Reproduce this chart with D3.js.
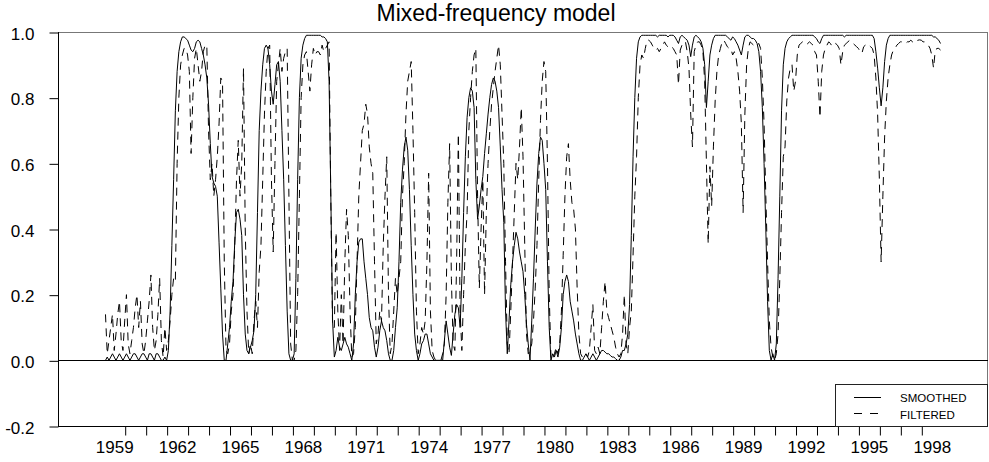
<!DOCTYPE html>
<html><head><meta charset="utf-8">
<script src="https://cdn.jsdelivr.net/npm/d3@7"></script>
<style>body{margin:0;background:#fff} svg{display:block}</style>
</head><body>
<svg id="c" width="989" height="462"></svg>
<script>
// ---- data (monthly, starting 1959:02) ----
const startYear = 1959, startMonth = 2;
const smoothed = [
 0.00,0.01,0.00,0.01,0.02,0.01,0.00,0.01,0.02,0.01,0.00,
 0.01,0.02,0.01,0.00,0.01,0.02,0.02,0.01,0.00,0.01,0.02,0.02,
 0.01,0.00,0.02,0.02,0.01,0.00,0.02,0.02,0.01,0.00,0.00,0.01,
 0.00,0.03,0.15,0.35,0.55,0.76,0.88,0.94,0.97,0.985,0.985,0.98,
 0.975,0.96,0.945,0.94,0.95,0.97,0.975,0.97,0.95,0.93,0.90,0.86,
 0.78,0.66,0.56,0.54,0.53,0.50,0.36,0.22,0.08,0.00,0.00,0.05,
 0.10,0.18,0.24,0.36,0.45,0.46,0.43,0.38,0.20,0.08,0.03,0.02,
 0.04,0.06,0.09,0.20,0.45,0.70,0.82,0.90,0.95,0.96,0.95,0.90,
 0.82,0.78,0.84,0.90,0.91,0.85,0.70,0.55,0.35,0.15,0.02,0.00,
 0.00,0.02,0.25,0.55,0.80,0.92,0.96,0.98,0.99,0.99,0.99,0.99,
 0.99,0.99,0.99,0.99,0.99,0.985,0.985,0.98,0.97,0.85,0.50,0.12,
 0.01,0.03,0.07,0.04,0.03,0.05,0.07,0.05,0.04,0.02,0.00,0.05,
 0.20,0.30,0.36,0.37,0.37,0.30,0.25,0.20,0.13,0.10,0.09,0.04,
 0.01,0.04,0.09,0.12,0.10,0.09,0.06,0.02,0.00,0.00,0.03,0.10,
 0.16,0.30,0.48,0.58,0.65,0.68,0.64,0.52,0.35,0.20,0.08,0.03,
 0.00,0.02,0.05,0.06,0.08,0.08,0.05,0.02,0.01,0.00,0.00,0.00,
 0.00,0.00,0.00,0.06,0.12,0.08,0.04,0.015,0.08,0.14,0.17,0.16,
 0.10,0.25,0.45,0.62,0.74,0.80,0.83,0.82,0.77,0.55,0.43,0.47,
 0.52,0.56,0.63,0.69,0.75,0.80,0.84,0.86,0.85,0.82,0.77,0.65,
 0.52,0.42,0.15,0.02,0.12,0.23,0.30,0.35,0.39,0.37,0.33,0.30,
 0.27,0.20,0.11,0.05,0.00,0.12,0.25,0.40,0.54,0.63,0.68,0.67,
 0.60,0.52,0.30,0.10,0.00,0.02,0.01,0.03,0.01,0.04,0.10,0.20,
 0.24,0.26,0.24,0.18,0.15,0.12,0.08,0.05,0.02,0.00,0.00,0.01,
 0.02,0.01,0.00,0.01,0.02,0.01,0.00,0.01,0.02,0.03,0.03,0.025,
 0.02,0.02,0.015,0.01,0.01,0.005,0.00,0.00,0.01,0.03,0.03,0.05,
 0.08,0.17,0.38,0.62,0.80,0.92,0.97,0.985,0.99,0.99,0.99,0.99,
 0.99,0.99,0.99,0.99,0.99,0.985,0.99,0.99,0.99,0.99,0.99,0.985,
 0.99,0.99,0.99,0.985,0.975,0.965,0.985,0.99,0.985,0.98,0.975,0.96,
 0.925,0.96,0.985,0.99,0.985,0.98,0.97,0.95,0.90,0.77,0.85,0.93,
 0.96,0.98,0.99,0.99,0.99,0.99,0.99,0.99,0.99,0.985,0.98,0.975,
 0.985,0.98,0.97,0.96,0.945,0.93,0.96,0.985,0.99,0.99,0.985,0.98,
 0.98,0.975,0.965,0.94,0.88,0.77,0.60,0.40,0.18,0.03,0.00,0.02,
 0.00,0.05,0.25,0.50,0.76,0.90,0.95,0.97,0.98,0.985,0.99,0.99,
 0.99,0.99,0.99,0.99,0.99,0.99,0.99,0.99,0.99,0.99,0.99,0.985,
 0.98,0.97,0.965,0.98,0.99,0.99,0.99,0.99,0.99,0.99,0.99,0.99,
 0.99,0.99,0.99,0.99,0.985,0.99,0.99,0.99,0.99,0.99,0.99,0.99,
 0.99,0.99,0.99,0.99,0.99,0.99,0.99,0.99,0.99,0.98,0.94,0.89,
 0.83,0.775,0.83,0.91,0.96,0.98,0.99,0.99,0.99,0.99,0.99,0.99,
 0.99,0.99,0.99,0.99,0.99,0.99,0.99,0.99,0.99,0.99,0.99,0.99,
 0.99,0.99,0.99,0.99,0.99,0.99,0.99,0.985,0.985,0.98,0.975,0.965
];
const filtered = [
 0.14,0.02,0.06,0.10,0.14,0.03,0.08,0.14,0.18,0.06,0.03,
 0.12,0.20,0.05,0.02,0.06,0.10,0.16,0.20,0.10,0.18,0.05,0.02,
 0.06,0.12,0.18,0.26,0.10,0.03,0.06,0.14,0.25,0.06,0.01,0.10,
 0.03,0.06,0.12,0.20,0.25,0.24,0.60,0.80,0.90,0.93,0.95,0.95,
 0.93,0.88,0.63,0.80,0.92,0.95,0.90,0.85,0.88,0.94,0.96,0.96,
 0.70,0.55,0.60,0.50,0.55,0.62,0.72,0.86,0.85,0.30,0.03,0.02,
 0.05,0.15,0.20,0.35,0.55,0.67,0.50,0.60,0.89,0.40,0.15,0.02,
 0.05,0.02,0.12,0.18,0.10,0.27,0.35,0.55,0.75,0.88,0.95,0.96,
 0.55,0.33,0.60,0.85,0.90,0.95,0.88,0.92,0.94,0.95,0.50,0.05,
 0.00,0.00,0.03,0.20,0.50,0.80,0.90,0.93,0.94,0.88,0.82,0.90,
 0.95,0.93,0.94,0.94,0.93,0.96,0.94,0.95,0.96,0.97,0.48,0.10,
 0.10,0.39,0.15,0.03,0.20,0.05,0.30,0.46,0.38,0.15,0.01,0.02,
 0.10,0.30,0.50,0.60,0.70,0.72,0.78,0.75,0.65,0.60,0.57,0.30,
 0.05,0.08,0.15,0.12,0.35,0.50,0.62,0.20,0.02,0.05,0.15,0.25,
 0.20,0.25,0.30,0.50,0.60,0.75,0.85,0.88,0.91,0.70,0.45,0.15,
 0.02,0.05,0.10,0.08,0.12,0.30,0.57,0.15,0.03,0.01,0.00,0.00,
 0.00,0.00,0.02,0.05,0.20,0.48,0.66,0.25,0.05,0.03,0.30,0.69,
 0.15,0.03,0.20,0.35,0.45,0.70,0.80,0.88,0.93,0.95,0.50,0.22,
 0.40,0.55,0.20,0.45,0.60,0.70,0.78,0.83,0.88,0.92,0.96,0.90,
 0.75,0.60,0.30,0.05,0.02,0.15,0.30,0.45,0.60,0.55,0.65,0.77,
 0.62,0.35,0.08,0.02,0.03,0.05,0.12,0.22,0.35,0.55,0.73,0.85,
 0.91,0.88,0.60,0.20,0.01,0.00,0.02,0.04,0.02,0.05,0.15,0.32,
 0.50,0.62,0.66,0.55,0.48,0.46,0.40,0.22,0.08,0.02,0.01,0.02,
 0.02,0.01,0.03,0.10,0.17,0.03,0.02,0.04,0.02,0.10,0.18,0.24,
 0.15,0.13,0.11,0.09,0.07,0.04,0.02,0.01,0.02,0.08,0.20,0.05,
 0.02,0.10,0.15,0.32,0.50,0.62,0.80,0.90,0.93,0.92,0.95,0.975,
 0.975,0.97,0.96,0.95,0.945,0.95,0.94,0.95,0.96,0.97,0.96,0.955,
 0.95,0.955,0.95,0.94,0.93,0.84,0.945,0.96,0.97,0.97,0.94,0.89,
 0.75,0.65,0.94,0.96,0.97,0.97,0.96,0.94,0.85,0.60,0.355,0.59,
 0.47,0.65,0.79,0.88,0.93,0.95,0.97,0.975,0.965,0.955,0.95,0.95,
 0.93,0.94,0.92,0.88,0.82,0.72,0.45,0.75,0.90,0.95,0.97,0.965,
 0.96,0.955,0.96,0.965,0.95,0.86,0.72,0.50,0.30,0.12,0.04,0.01,
 0.00,0.02,0.08,0.25,0.45,0.62,0.65,0.79,0.86,0.89,0.90,0.82,
 0.85,0.93,0.96,0.965,0.97,0.965,0.96,0.965,0.97,0.965,0.96,0.94,
 0.93,0.85,0.74,0.88,0.93,0.95,0.96,0.97,0.965,0.955,0.96,0.965,
 0.96,0.95,0.90,0.94,0.96,0.965,0.97,0.975,0.97,0.965,0.96,0.955,
 0.95,0.94,0.935,0.955,0.96,0.965,0.96,0.955,0.95,0.93,0.86,0.75,
 0.55,0.30,0.50,0.68,0.79,0.86,0.90,0.93,0.945,0.95,0.96,0.965,
 0.97,0.97,0.965,0.965,0.97,0.97,0.975,0.97,0.965,0.97,0.975,0.976,
 0.975,0.97,0.97,0.965,0.96,0.95,0.93,0.89,0.945,0.95,0.95,0.945
];
const yTicks = [-0.2, 0.0, 0.2, 0.4, 0.6, 0.8, 1.0];
const xLabelYears = [1959,1962,1965,1968,1971,1974,1977,1980,1983,1986,1989,1992,1995,1998];
const xTickYears = d3.range(1960, 1999);
const seriesNames = ["SMOOTHED", "FILTERED"];
const chartTitle = "Mixed-frequency model";

// ---- layout ----
const W = 989, H = 462;
const plot = {left: 58, right: 988, top: 32, bottom: 426};
const FONT = "'Liberation Sans', Arial, Helvetica, sans-serif";

const x = d3.scaleLinear().domain([1959, 1998]).range([103.74, 921.3]);
const y = d3.scaleLinear().domain([-0.2, 1.0]).range([plot.bottom, plot.top]);

const svg = d3.select("#c");
const timeOf = i => startYear + (startMonth - 1 + i) / 12;

// frame (top/right grey)
svg.append("rect")
  .attr("x", plot.left + 0.5).attr("y", plot.top + 0.5)
  .attr("width", plot.right - plot.left - 1).attr("height", plot.bottom - plot.top)
  .attr("fill", "none").attr("stroke", "#777").attr("stroke-width", 1);

// Y axis
const yAxis = d3.axisLeft(y).tickValues(yTicks).tickFormat(d => d.toFixed(1))
  .tickSize(9).tickPadding(15).tickSizeOuter(0);
const gy = svg.append("g").attr("transform", `translate(${plot.left + 0.5},0)`).call(yAxis);
gy.select(".domain").remove();
gy.selectAll(".tick line").attr("stroke", "#000").attr("transform", "translate(0,0.5)");
gy.selectAll(".tick text").attr("font-family", FONT).attr("font-size", 17)
  .attr("fill", "#000").attr("dy", "0.43em");

// X axis ticks (every year)
const xAxisTicks = d3.axisBottom(x).tickValues(xTickYears).tickFormat("").tickSize(9).tickSizeOuter(0);
const gx = svg.append("g").attr("transform", `translate(0,${plot.bottom + 0.5})`).call(xAxisTicks);
gx.select(".domain").remove();
gx.selectAll(".tick line").attr("stroke", "#000").attr("transform", "translate(0.5,0)");

// X axis labels (centred in the year)
const xAxisLabels = d3.axisBottom(x).tickValues(xLabelYears.map(d => d + 0.5))
  .tickFormat(d => String(Math.floor(d))).tickSize(0).tickPadding(15);
const gxl = svg.append("g").attr("transform", `translate(0,${plot.bottom})`).call(xAxisLabels);
gxl.select(".domain").remove();
gxl.selectAll(".tick text").attr("font-family", FONT).attr("font-size", 17).attr("fill", "#000");

// axis lines (left, bottom) and zero line
svg.append("line").attr("x1", plot.left + 0.5).attr("x2", plot.left + 0.5)
  .attr("y1", plot.top).attr("y2", plot.bottom + 1).attr("stroke", "#000");
svg.append("line").attr("x1", plot.left).attr("x2", plot.right)
  .attr("y1", plot.bottom + 0.5).attr("y2", plot.bottom + 0.5).attr("stroke", "#000");
svg.append("line").attr("x1", plot.left).attr("x2", plot.right)
  .attr("y1", Math.round(y(0)) + 0.5).attr("y2", Math.round(y(0)) + 0.5).attr("stroke", "#000");

// series
const line = d3.line().x((d, i) => x(timeOf(i))).y(d => y(d));
svg.append("path").datum(filtered).attr("d", line)
  .attr("fill", "none").attr("stroke", "#000").attr("stroke-width", 1)
  .attr("stroke-dasharray", "8,6");
svg.append("path").datum(smoothed).attr("d", line)
  .attr("fill", "none").attr("stroke", "#000").attr("stroke-width", 1);

// title
svg.append("text").attr("x", 496).attr("y", 21).attr("text-anchor", "middle")
  .attr("font-family", FONT).attr("font-size", 23).attr("fill", "#000").text(chartTitle);

// legend
const lg = svg.append("g");
lg.append("rect").attr("x", 835.5).attr("y", 384.5).attr("width", 152).attr("height", 42)
  .attr("fill", "#fff").attr("stroke", "#222");
const dashes = [null, "8,8"];
seriesNames.forEach((name, k) => {
  const yy = 397.5 + k * 16;
  lg.append("line").attr("x1", 854).attr("x2", 881).attr("y1", yy).attr("y2", yy)
    .attr("stroke", "#000").attr("stroke-dasharray", dashes[k]);
  lg.append("text").attr("x", 900).attr("y", 402 + k * 16.5)
    .attr("font-family", FONT).attr("font-size", 11.5).attr("fill", "#000").text(name);
});
</script>
</body></html>
